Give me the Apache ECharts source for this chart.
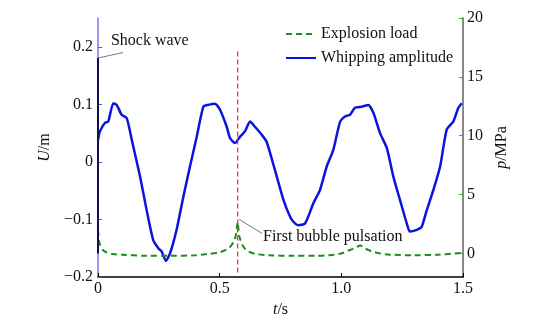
<!DOCTYPE html>
<html>
<head>
<meta charset="utf-8">
<script src="https://cdn.jsdelivr.net/npm/echarts@6/dist/echarts.min.js"></script>
<style>html,body{margin:0;padding:0;background:#fff}#c{width:547px;height:325px}</style>
</head>
<body>
<div id="c"></div>
<script>
// Whipping amplitude U (m) vs t (s)
const tWhip = [0,0.008,0.029,0.042,0.063,0.077,0.097,0.118,0.139,0.173,0.200,0.227,0.248,0.262,0.279,0.296,0.323,0.351,0.378,0.406,0.433,0.453,0.481,0.501,0.529,0.543,0.563,0.584,0.604,0.625,0.645,0.673,0.693,0.727,0.762,0.789,0.803,0.823,0.851,0.885,0.912,0.940,0.967,0.995,1.015,1.036,1.056,1.084,1.111,1.132,1.159,1.187,1.214,1.241,1.269,1.282,1.310,1.330,1.351,1.378,1.406,1.433,1.460,1.481,1.495];
const uWhip = [0.038,0.053,0.068,0.070,0.102,0.099,0.082,0.076,0.038,-0.026,-0.084,-0.136,-0.150,-0.156,-0.172,-0.159,-0.118,-0.060,-0.008,0.044,0.096,0.099,0.101,0.091,0.061,0.041,0.033,0.044,0.053,0.070,0.061,0.047,0.035,-0.014,-0.066,-0.095,-0.104,-0.110,-0.107,-0.072,-0.049,-0.008,0.021,0.070,0.079,0.082,0.094,0.096,0.099,0.085,0.050,0.024,-0.026,-0.066,-0.107,-0.121,-0.118,-0.113,-0.084,-0.049,-0.008,0.056,0.070,0.094,0.102];
// Explosion load p (MPa) vs t (s)
const tLoad = [0,0.005,0.012,0.02,0.035,0.06,0.1,0.2,0.3,0.4,0.45,0.5,0.53,0.545,0.56,0.568,0.574,0.58,0.59,0.6,0.62,0.65,0.7,0.8,0.9,0.95,1.0,1.03,1.06,1.077,1.1,1.13,1.16,1.2,1.3,1.4,1.5];
const pLoad = [2.0,1.0,0.55,0.3,0.1,-0.05,-0.1,-0.2,-0.2,-0.15,-0.05,0.1,0.35,0.6,1.1,1.7,2.66,1.5,0.9,0.5,0.15,-0.05,-0.15,-0.2,-0.2,-0.15,0,0.25,0.5,0.68,0.4,0.15,0,-0.1,-0.15,-0.1,0.05];
// Shock wave peak at t = 0
const tShock = [0,0];
const pShock = [0,16.6];
// First bubble pulsation marker line
const tBubble = [0.574,0.574];
const uBubble = [-0.192,0.192];
// Ticks
const xTicks = [0,0.5,1.0,1.5];
const uTicks = [-0.2,-0.1,0,0.1,0.2];
const pTicks = [0,5,10,15,20];

const FONT = '"Liberation Serif","Times New Roman",serif';
const zip = (a,b)=>a.map((v,i)=>[v,b[i]]);
const chart = echarts.init(document.getElementById('c'));
const fmtMinus = v => String(v).replace('-', '\u2212');

chart.setOption({
  animation:false,
  backgroundColor:'#fff',
  textStyle:{fontFamily:FONT},
  grid:{left:98,right:84,top:18,bottom:48},
  legend:{
    orient:'vertical', left:280, top:21, itemWidth:30, itemHeight:14, itemGap:8,
    itemStyle:{opacity:0},
    textStyle:{fontFamily:FONT,fontSize:16,color:'#111'},
    data:['Explosion load','Whipping amplitude']
  },
  xAxis:{
    type:'value', min:0, max:1.5, interval:0.5,
    name:'{i|t}/s', nameLocation:'middle', nameGap:22,
    nameTextStyle:{fontFamily:FONT,fontSize:16,color:'#111',verticalAlign:'top',rich:{i:{fontStyle:'italic',fontFamily:FONT,fontSize:16}}},
    axisLine:{onZero:false,lineStyle:{color:'#000',width:1.5}},
    axisTick:{inside:true,length:4,lineStyle:{color:'#000'},customValues:xTicks},
    axisLabel:{fontFamily:FONT,fontSize:16,color:'#111',margin:4,customValues:xTicks,formatter:v=>v===0?'0':v.toFixed(1)},
    splitLine:{show:false}
  },
  yAxis:[{
    type:'value', min:-0.2, max:0.25, position:'left',
    name:'{i|U}/m', nameLocation:'middle', nameGap:33, nameRotate:90,
    nameTextStyle:{fontFamily:FONT,fontSize:16,color:'#111',rich:{i:{fontStyle:'italic',fontFamily:FONT,fontSize:16}}},
    axisLine:{show:true,onZero:false,lineStyle:{color:'#7878f0',width:1.5}},
    axisTick:{inside:true,length:4,lineStyle:{color:'#5050f0'},customValues:uTicks},
    axisLabel:{fontFamily:FONT,fontSize:16,color:'#111',margin:5,customValues:uTicks,formatter:v=>fmtMinus(Math.round(v*10)/10)},
    splitLine:{show:false}
  },{
    type:'value', min:-2, max:20, position:'right',
    name:'{i|p}/MPa', nameLocation:'middle', nameGap:24, nameRotate:90,
    nameTextStyle:{fontFamily:FONT,fontSize:16,color:'#111',rich:{i:{fontStyle:'italic',fontFamily:FONT,fontSize:16}}},
    axisLine:{show:true,onZero:false,lineStyle:{color:'#888',width:2}},
    axisTick:{inside:true,length:4,lineStyle:{color:'#2db82d'},customValues:pTicks},
    axisLabel:{fontFamily:FONT,fontSize:16,color:'#111',margin:4,customValues:pTicks},
    splitLine:{show:false}
  }],
  series:[{
    name:'Explosion load', type:'line', yAxisIndex:1, showSymbol:false, symbol:'none',
    data:zip(tLoad,pLoad), smooth:0.3,
    lineStyle:{color:'#1a8f1a',width:2,type:[6,4]}, itemStyle:{color:'#1a8f1a'}, z:3
  },{
    name:'shock', type:'line', yAxisIndex:1, showSymbol:false, symbol:'none',
    data:zip(tShock,pShock), lineStyle:{color:'#101050',width:2}, z:4
  },{
    name:'Whipping amplitude', type:'line', yAxisIndex:0, showSymbol:false, symbol:'none',
    data:zip(tWhip,uWhip), smooth:0.2,
    lineStyle:{color:'#0a14e0',width:2.5}, itemStyle:{color:'#0a14e0'}, z:2
  },{
    name:'bubble', type:'line', yAxisIndex:0, showSymbol:false, symbol:'none',
    data:zip(tBubble,uBubble), lineStyle:{color:'#e03030',width:1.2,type:[5,3]}, z:5
  }]
});

function px(t,v,axis){ return chart.convertToPixel({xAxisIndex:0,yAxisIndex:axis},[t,v]); }
const s1 = px(0,16.6,1), s2 = px(0.103,0.19,0), s3 = px(0.053,0.21,0);
const b1 = px(0.58,2.9,1), b2 = px(0.674,1.7,1), b3 = px(0.678,1.45,1);
chart.setOption({graphic:[
  {type:'line',shape:{x1:s1[0],y1:s1[1],x2:s2[0],y2:s2[1]},style:{stroke:'#555',lineWidth:0.8}},
  {type:'text',x:s3[0],y:s3[1],style:{text:'Shock wave',font:'16px '+FONT,fill:'#111',textVerticalAlign:'middle'}},
  {type:'line',shape:{x1:b1[0],y1:b1[1],x2:b2[0],y2:b2[1]},style:{stroke:'#555',lineWidth:0.8}},
  {type:'text',x:b3[0],y:b3[1],style:{text:'First bubble pulsation',font:'16px '+FONT,fill:'#111',textVerticalAlign:'middle'}}
]});
</script>
</body>
</html>
